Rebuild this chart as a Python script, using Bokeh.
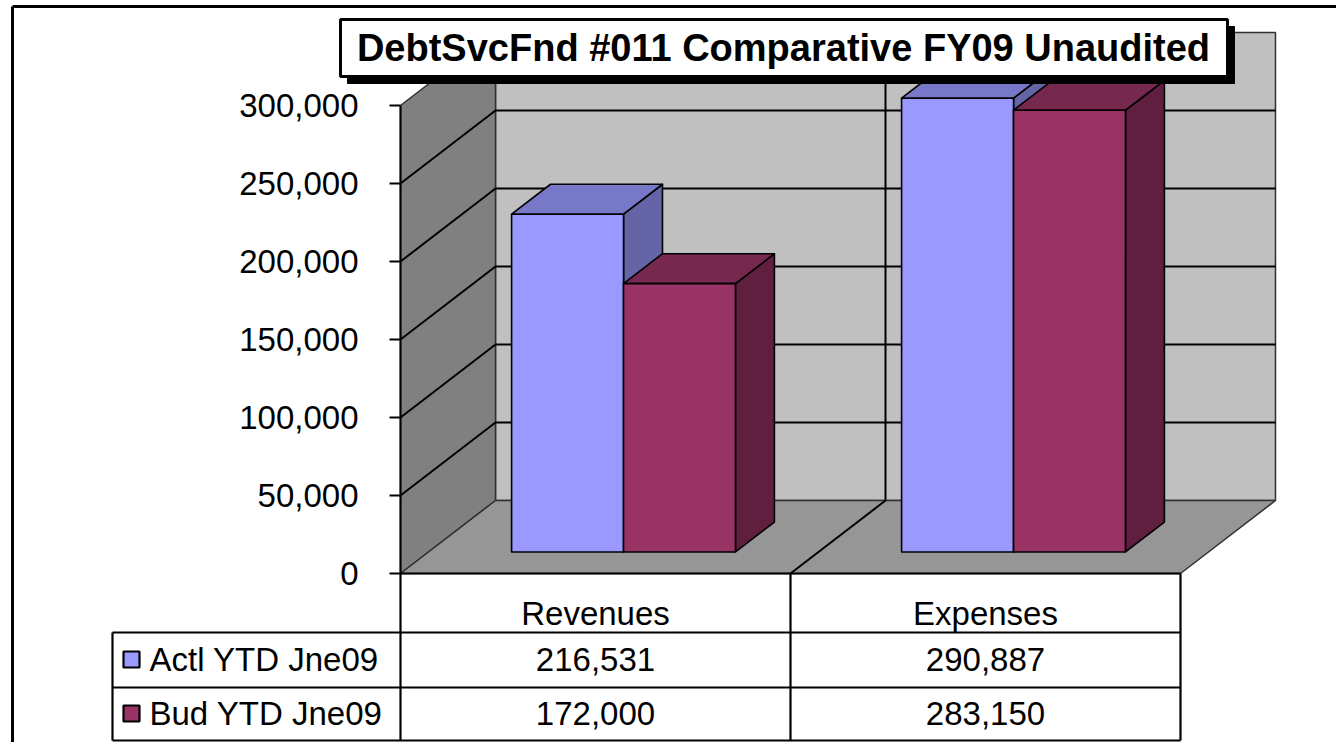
from bokeh.plotting import figure
from bokeh.models import Range1d
from bokeh.core.properties import value
from bokeh.embed import file_html
from bokeh.resources import INLINE

# ---------------- data ----------------
categories = ["Revenues", "Expenses"]
series_names = ["Actl YTD Jne09", "Bud YTD Jne09"]
actl_ytd = [216531, 290887]
bud_ytd = [172000, 283150]
y_ticks = [0, 50000, 100000, 150000, 200000, 250000, 300000]
chart_title = "DebtSvcFnd #011 Comparative FY09 Unaudited"

series_values = [actl_ytd, bud_ytd]
front_colors = ["#9999FF", "#993366"]
top_colors = ["#7878C8", "#76284F"]
side_colors = ["#6464A6", "#611F40"]

FONT = value("Liberation Sans")

# ---------------- layout (pixels) ----------------
W, H = 1336, 742
X0PX, CATPX = 400.0, 390.0          # front-left corner of floor, width of one category
Y0PX = 573.0                        # value 0 at the front
VMAX = y_ticks[-1]
PXV = 468.0 / VMAX                  # pixels per value unit
DEPTH_XPX, DEPTH_YPX = 95.0, 73.0   # oblique depth offset
BASE_FIX = 0.36                     # renderer baseline correction (fraction of font size)


def xd(px):
    return (px - X0PX) / CATPX


def vd(py):
    return (Y0PX - py) / PXV


def tb(py, size):
    """data y for a text whose visual baseline should sit at pixel py"""
    return vd(py - BASE_FIX * size)


DZX = DEPTH_XPX / CATPX
DZV = DEPTH_YPX / PXV


def P(x, v, z):
    return x + z * DZX, v + z * DZV


def poly(pts):
    xs, ys = zip(*[P(*q) for q in pts])
    return list(xs), list(ys)


n = len(categories)

p = figure(width=W, height=H,
           x_range=Range1d(xd(0), xd(W)), y_range=Range1d(vd(H), vd(0)),
           output_backend="svg", toolbar_location=None, min_border=0,
           x_axis_location=None, y_axis_location=None,
           background_fill_color="white", border_fill_color="white",
           outline_line_color=None)
p.xgrid.visible = False
p.ygrid.visible = False

# ---------------- walls & floor ----------------
faces = [
    [(0, 0, 1), (n, 0, 1), (n, VMAX, 1), (0, VMAX, 1)],   # back wall
    [(0, 0, 0), (0, 0, 1), (0, VMAX, 1), (0, VMAX, 0)],   # side wall
    [(0, 0, 0), (n, 0, 0), (n, 0, 1), (0, 0, 1)],         # floor
]
wx, wy = [], []
for f in faces:
    a, b = poly(f)
    wx.append(a)
    wy.append(b)
p.patches(wx, wy, fill_color=["#C0C0C0", "#808080", "#969696"],
          line_color="#303030", line_width=1.5)

# gridlines
gx, gy = [], []
for t in y_ticks[1:-1]:
    a, b = poly([(0, t, 0), (0, t, 1), (n, t, 1)])
    gx.append(a)
    gy.append(b)
for i in range(1, n):
    a, b = poly([(i, 0, 0), (i, 0, 1), (i, VMAX, 1)])
    gx.append(a)
    gy.append(b)
p.multi_line(gx, gy, line_color="black", line_width=2)

# value axis + ticks
p.line([0, 0], [0, VMAX], line_color="black", line_width=2)
p.segment(x0=[xd(389)] * len(y_ticks), y0=y_ticks, x1=[0] * len(y_ticks), y1=y_ticks,
          line_color="black", line_width=2)
p.text(x=[xd(358)] * len(y_ticks), y=[t - (12 - BASE_FIX * 33) / PXV for t in y_ticks],
       text=[f"{t:,}" for t in y_ticks], text_align="right", text_baseline="alphabetic",
       text_font=FONT, text_font_size="33px", text_color="black")

# ---------------- bars ----------------
GAP = 0.213
BW = (1 - 2 * GAP) / len(series_values)
Z0, Z1 = 0.295, 0.705
for i in range(n):
    for s, vals in enumerate(series_values):
        v = vals[i]
        x0 = i + GAP + s * BW
        x1 = x0 + BW
        bx, by, cols = [], [], []
        for pts, c in [
            ([(x1, 0, Z0), (x1, 0, Z1), (x1, v, Z1), (x1, v, Z0)], side_colors[s]),
            ([(x0, v, Z0), (x1, v, Z0), (x1, v, Z1), (x0, v, Z1)], top_colors[s]),
            ([(x0, 0, Z0), (x1, 0, Z0), (x1, v, Z0), (x0, v, Z0)], front_colors[s]),
        ]:
            a, b = poly(pts)
            bx.append(a)
            by.append(b)
            cols.append(c)
        p.patches(bx, by, fill_color=cols, line_color="black", line_width=1.6,
                  line_join="round")

# ---------------- data table ----------------
ROW_PX = [573, 632, 687, 740]
TABLE_LEFT = xd(112)
hx, hy = [], []
for py in ROW_PX[1:]:
    hx.append([TABLE_LEFT, n])
    hy.append([vd(py), vd(py)])
hx.append([TABLE_LEFT, TABLE_LEFT])
hy.append([vd(ROW_PX[1]), vd(ROW_PX[-1])])
for i in range(n + 1):
    hx.append([i, i])
    hy.append([vd(ROW_PX[0]), vd(ROW_PX[-1])])
hx.append([0, n])
hy.append([0, 0])
p.multi_line(hx, hy, line_color="black", line_width=2.2)

p.text(x=[i + 0.5 for i in range(n)], y=[tb(625, 33)] * n, text=categories,
       text_align="center", text_baseline="alphabetic",
       text_font=FONT, text_font_size="33px", text_color="black")

row_base = [671, 725]
for s, vals in enumerate(series_values):
    p.text(x=[i + 0.5 for i in range(n)], y=[tb(row_base[s], 33)] * n,
           text=[f"{v:,}" for v in vals], text_align="center", text_baseline="alphabetic",
           text_font=FONT, text_font_size="33px", text_color="black")
    cy = row_base[s] - 12
    p.quad(left=[xd(123)], right=[xd(139)], top=[vd(cy - 8)], bottom=[vd(cy + 8)],
           fill_color=front_colors[s], line_color="black", line_width=2.2)
    p.text(x=[xd(149)], y=[tb(row_base[s], 33)], text=[series_names[s]],
           text_align="left", text_baseline="alphabetic",
           text_font=FONT, text_font_size="33px", text_color="black")

# ---------------- title ----------------
p.quad(left=[xd(347)], right=[xd(1234)], top=[vd(26)], bottom=[vd(83)],
       fill_color="black", line_color="black")
p.quad(left=[xd(340)], right=[xd(1227)], top=[vd(19)], bottom=[vd(76)],
       fill_color="white", line_color="black", line_width=3)
p.text(x=[xd(783)], y=[tb(61, 38)], text=[chart_title], text_align="center",
       text_baseline="alphabetic", text_font=FONT, text_font_size="38px",
       text_font_style="bold", text_color="black")

# ---------------- chart border ----------------
p.multi_line([[xd(12), xd(12)], [xd(12), xd(W)]],
             [[vd(6), vd(H)], [vd(6), vd(6)]], line_color="black", line_width=3)

open("out.html", "w").write(file_html(p, INLINE))
